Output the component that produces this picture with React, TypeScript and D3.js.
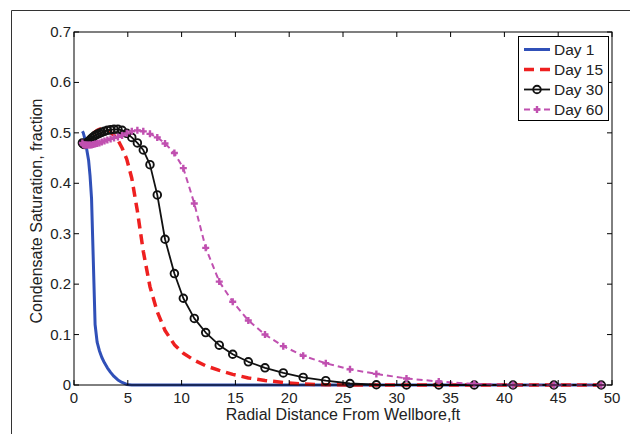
import React from "react";
import * as d3 from "d3";

const radius = [0.78, 0.86, 0.94, 1.03, 1.13, 1.24, 1.36, 1.49, 1.63, 1.79, 1.96, 2.15, 2.36, 2.58, 2.83, 3.1, 3.4, 3.72, 4.08, 4.47, 4.9, 5.37, 5.89, 6.44, 7.06, 7.74, 8.46, 9.33, 10.16, 11.18, 12.24, 13.5, 14.75, 16.2, 17.75, 19.45, 21.3, 23.4, 25.65, 28.1, 30.9, 33.9, 37.2, 40.8, 44.6, 49.0];

const day1 = [0.503, 0.5, 0.494, 0.486, 0.474, 0.46, 0.445, 0.415, 0.37, 0.25, 0.12, 0.085, 0.068, 0.055, 0.044, 0.034, 0.025, 0.017, 0.01, 0.005, 0.001, 0, 0, 0, 0, 0, 0, 0, 0, 0, 0, 0, 0, 0, 0, 0, 0, 0, 0, 0, 0, 0, 0, 0, 0, 0];
const day15 = [0.48, 0.478, 0.478, 0.479, 0.481, 0.484, 0.487, 0.491, 0.495, 0.499, 0.502, 0.505, 0.507, 0.508, 0.507, 0.505, 0.501, 0.495, 0.486, 0.47, 0.448, 0.41, 0.345, 0.265, 0.195, 0.145, 0.108, 0.08, 0.063, 0.049, 0.038, 0.029, 0.021, 0.014, 0.009, 0.005, 0.002, 0.0005, 0, 0, 0, 0, 0, 0, 0, 0];
const day30 = [0.48, 0.478, 0.477, 0.478, 0.479, 0.481, 0.483, 0.486, 0.489, 0.492, 0.495, 0.497, 0.499, 0.501, 0.503, 0.505, 0.506, 0.507, 0.507, 0.505, 0.499, 0.491, 0.48, 0.466, 0.437, 0.377, 0.289, 0.221, 0.172, 0.132, 0.104, 0.079, 0.061, 0.046, 0.034, 0.024, 0.015, 0.0085, 0.003, 0.0005, 0, 0, 0, 0, 0, 0];
const day60 = [0.48, 0.477, 0.476, 0.476, 0.476, 0.476, 0.476, 0.476, 0.476, 0.477, 0.478, 0.479, 0.48, 0.482, 0.484, 0.486, 0.488, 0.49, 0.492, 0.495, 0.499, 0.503, 0.505, 0.503, 0.498, 0.491, 0.479, 0.46, 0.43, 0.36, 0.272, 0.205, 0.165, 0.128, 0.1, 0.077, 0.058, 0.043, 0.031, 0.022, 0.013, 0.007, 0.002, 0, 0, 0];

const seriesNames = ["Day 1", "Day 15", "Day 30", "Day 60"];
const xTicks = [0, 5, 10, 15, 20, 25, 30, 35, 40, 45, 50];
const yTicks = [0, 0.1, 0.2, 0.3, 0.4, 0.5, 0.6, 0.7];

const FONT = "'Liberation Sans', Arial, sans-serif";

export default function App() {
  const W = 630, H = 434;
  const L = 74, T = 32, R = 612, B = 385;
  const x = d3.scaleLinear().domain([0, 50]).range([L, R]);
  const y = d3.scaleLinear().domain([0, 0.7]).range([B, T]);
  const line = d3.line<number>().x((_, i) => x(radius[i])).y((d) => y(d));

  const styles = [
    { data: day1, color: "#3050B8", width: 3, dash: "", marker: "" },
    { data: day15, color: "#EE2020", width: 3.5, dash: "10,6", marker: "" },
    { data: day30, color: "#111111", width: 1.8, dash: "", marker: "circle" },
    { data: day60, color: "#C050B0", width: 2, dash: "6,4", marker: "plus" },
  ];

  const renderMarker = (kind: string, cx: number, cy: number, color: string, key: any) => {
    if (kind === "circle")
      return <circle key={key} cx={cx} cy={cy} r={3.8} fill="none" stroke={color} strokeWidth={1.9} />;
    if (kind === "plus")
      return (
        <path key={key} d={`M${cx - 3.5},${cy}H${cx + 3.5}M${cx},${cy - 3.5}V${cy + 3.5}`} stroke={color} strokeWidth={2.4} />
      );
    return null;
  };

  return (
    <svg width={W} height={H} style={{ display: "block", position: "absolute", left: 0, top: 0 }}>
      <rect x={0} y={0} width={W} height={H} fill="#fff" />
      <path d={`M11.5,${H}V10.5H${W}`} fill="none" stroke="#333" strokeWidth={1} />
      <defs>
        <clipPath id="clip">
          <rect x={L - 6} y={T} width={R - L + 12} height={B - T + 6} />
        </clipPath>
      </defs>
      <g clipPath="url(#clip)">
        {styles.map((s, si) => (
          <g key={si}>
            <path d={line(s.data) || ""} fill="none" stroke={s.color} strokeWidth={s.width} strokeDasharray={s.dash} strokeLinejoin="round" />
            {s.marker && s.data.map((v, i) => renderMarker(s.marker, x(radius[i]), y(v), s.color, i))}
          </g>
        ))}
      </g>
      <rect x={L} y={T} width={R - L} height={B - T} fill="none" stroke="#000" strokeWidth={1} />
      {xTicks.map((t) => (
        <g key={"x" + t}>
          <line x1={x(t)} x2={x(t)} y1={B} y2={B - 5} stroke="#000" />
          <line x1={x(t)} x2={x(t)} y1={T} y2={T + 5} stroke="#000" />
          <text x={x(t)} y={403} textAnchor="middle" fontSize={15} fontFamily={FONT} fill="#222">{t}</text>
        </g>
      ))}
      {yTicks.map((t) => (
        <g key={"y" + t}>
          <line x1={L} x2={L + 5} y1={y(t)} y2={y(t)} stroke="#000" />
          <line x1={R} x2={R - 5} y1={y(t)} y2={y(t)} stroke="#000" />
          <text x={L - 3} y={y(t) + 5} textAnchor="end" fontSize={15} fontFamily={FONT} fill="#222">{t === 0 ? "0" : t.toFixed(1)}</text>
        </g>
      ))}
      <text x={343} y={420} textAnchor="middle" fontSize={16} fontFamily={FONT} fill="#222">Radial Distance From Wellbore,ft</text>
      <text transform={`translate(42,211) rotate(-90)`} textAnchor="middle" fontSize={16} fontFamily={FONT} fill="#222">Condensate Saturation, fraction</text>
      <g>
        <rect x={518.5} y={36.5} width={90} height={84} fill="#fff" stroke="#000" strokeWidth={1} />
        {styles.map((s, i) => {
          const ly = 49.5 + i * 20;
          return (
            <g key={"lg" + i}>
              <line x1={524} x2={550} y1={ly} y2={ly} stroke={s.color} strokeWidth={s.width} strokeDasharray={s.dash} />
              {s.marker && renderMarker(s.marker, 537, ly, s.color, "m")}
              <text x={554} y={ly + 5.5} fontSize={15.5} fontFamily={FONT} fill="#222">{seriesNames[i]}</text>
            </g>
          );
        })}
      </g>
    </svg>
  );
}
